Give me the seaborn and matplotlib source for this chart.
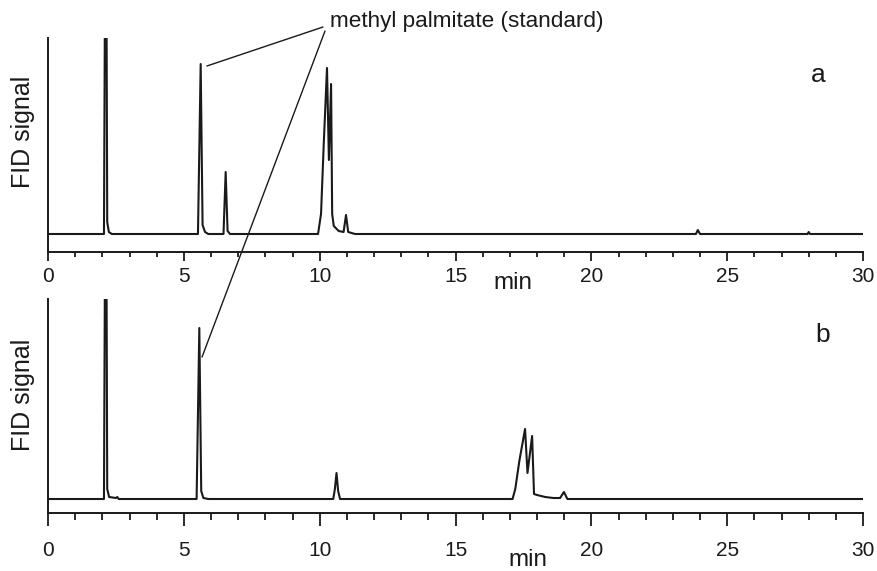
import matplotlib
matplotlib.use("Agg")
import matplotlib.pyplot as plt
import seaborn as sns
import numpy as np

# ---- data ----
time_a = [0, 2.06, 2.10, 2.15, 2.18, 2.24, 2.35, 5.52, 5.62, 5.69, 5.78, 5.9,
          6.46, 6.54, 6.61, 6.7, 9.94, 10.05, 10.15, 10.27, 10.34, 10.42, 10.46,
          10.52, 10.7, 10.88, 10.97, 11.05, 11.3, 23.85, 23.92, 24.0,
          27.96, 28.0, 28.05, 30]
signal_a = [0, 0, 260, 260, 12, 2, 0, 0, 170, 9, 2, 0,
            0, 62, 3, 0, 0, 20, 90, 166, 74, 150, 20,
            8, 3, 2, 19, 2, 0, 0, 4, 0,
            0, 2, 0, 0]

time_b = [0, 2.06, 2.10, 2.15, 2.18, 2.25, 2.5, 2.55, 2.6, 5.47, 5.57, 5.64,
          5.72, 5.9, 10.5, 10.56, 10.62, 10.68, 10.75, 17.1, 17.2, 17.35,
          17.56, 17.65, 17.82, 17.89, 18.0, 18.3, 18.6, 18.85,
          18.99, 19.12, 30]
signal_b = [0, 0, 260, 260, 10, 2, 1, 2, 0, 0, 171, 8,
            1, 0, 0, 10, 26, 8, 0, 0, 10, 38,
            70, 26, 63, 5, 4, 2, 1, 1,
            7, 0, 0]

x_ticks = [0, 5, 10, 15, 20, 25, 30]
panel_labels = ["a", "b"]
ylims = [(-18, 196), (-14, 200)]

sns.set_style("ticks")
plt.rcParams["font.family"] = ["Liberation Sans", "DejaVu Sans"]

W, H = 877, 571
fig = plt.figure(figsize=(W / 100, H / 100), dpi=100)

def fx(px):
    return px / W

def fy(py):
    return 1 - py / H

ax1 = fig.add_axes([fx(48), fy(252), fx(863) - fx(48), fy(38) - fy(252)])
ax2 = fig.add_axes([fx(48), fy(513), fx(863) - fx(48), fy(299) - fy(513)])

line_color = "#1a1a1a"
tick_specs = [(6.5, 3.6, 4.5), (9.5, 5.0, 11.0)]  # major len, minor len, pad
for ax, t, s, yl, (mj, mn, pad) in [(ax1, time_a, signal_a, ylims[0], tick_specs[0]),
                                     (ax2, time_b, signal_b, ylims[1], tick_specs[1])]:
    sns.lineplot(x=t, y=s, ax=ax, color=line_color, lw=1.5, sort=False, estimator=None)
    ax.set_xlim(0, 30)
    ax.set_ylim(*yl)
    ax.set_yticks([])
    ax.set_xticks(x_ticks)
    ax.set_xticks(np.arange(0, 31, 1), minor=True)
    ax.tick_params(axis="x", which="major", length=mj, width=1.3, labelsize=15,
                   direction="out", pad=pad, colors="#1a1a1a")
    ax.tick_params(axis="x", which="minor", length=mn, width=1.3, direction="out",
                   colors="#1a1a1a")
    for side in ["top", "right"]:
        ax.spines[side].set_visible(False)
    for side in ["left", "bottom"]:
        ax.spines[side].set_linewidth(1.4)
        ax.spines[side].set_color("#1a1a1a")
    ax.set_xlabel("")
    ax.set_ylabel("")

# axis labels placed as in reference
fig.text(fx(23), fy(132), "FID signal", rotation=90, ha="center", va="center", fontsize=18, color="#1a1a1a")
fig.text(fx(23), fy(395), "FID signal", rotation=90, ha="center", va="center", fontsize=18, color="#1a1a1a")
fig.text(fx(513), fy(283), "min", ha="center", va="center", fontsize=17.5, color="#1a1a1a")
fig.text(fx(528), fy(560), "min", ha="center", va="center", fontsize=17.5, color="#1a1a1a")
fig.text(fx(818), fy(75), panel_labels[0], ha="center", va="center", fontsize=19, color="#1a1a1a")
fig.text(fx(823), fy(335), panel_labels[1], ha="center", va="center", fontsize=19, color="#1a1a1a")

# annotation
fig.text(fx(330), fy(22), "methyl palmitate (standard)", ha="left", va="center", fontsize=16.2, color="#1a1a1a")
ax1.annotate("", xy=(5.85, 168), xycoords="data",
             xytext=(fx(323), fy(27)), textcoords="figure fraction",
             arrowprops=dict(arrowstyle="-", lw=1.0, color="#1a1a1a", shrinkA=0, shrinkB=0),
             annotation_clip=False)
ax2.annotate("", xy=(5.67, 142), xycoords="data",
             xytext=(fx(325), fy(31)), textcoords="figure fraction",
             arrowprops=dict(arrowstyle="-", lw=1.0, color="#1a1a1a", shrinkA=0, shrinkB=0),
             annotation_clip=False)

fig.savefig("out.png", dpi=100)
